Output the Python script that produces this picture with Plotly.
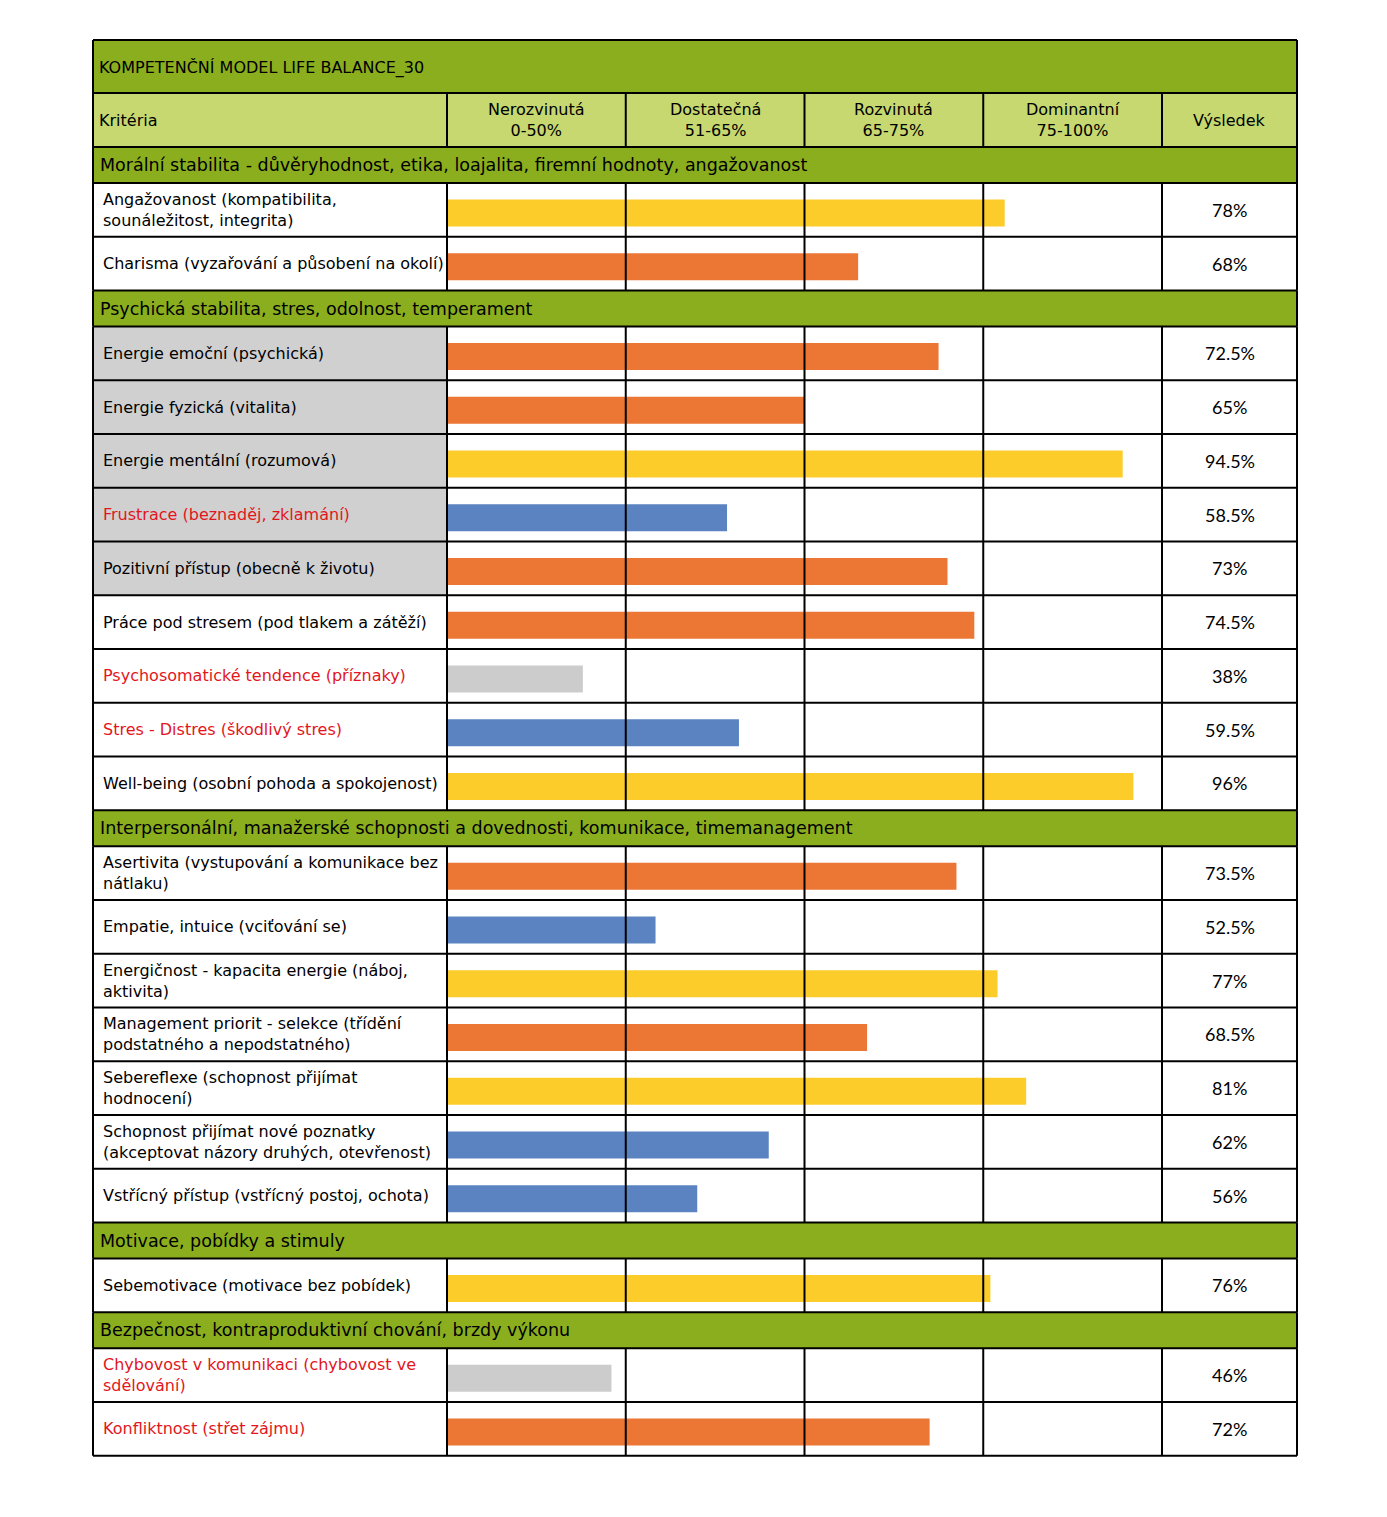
import numpy as np
import plotly.graph_objects as go

# ---------------- data ----------------
title_text = "KOMPETENČNÍ MODEL LIFE BALANCE_30"
criteria_header = "Kritéria"
band_labels = ["Nerozvinutá<br>0-50%", "Dostatečná<br>51-65%",
               "Rozvinutá<br>65-75%", "Dominantní<br>75-100%"]
result_header = "Výsledek"
band_edges = [0, 50, 65, 75, 100]

section_titles = [
    "Morální stabilita - důvěryhodnost, etika, loajalita, firemní hodnoty, angažovanost",
    "Psychická stabilita, stres, odolnost, temperament",
    "Interpersonální, manažerské schopnosti a dovednosti, komunikace, timemanagement",
    "Motivace, pobídky a stimuly",
    "Bezpečnost, kontraproduktivní chování, brzdy výkonu",
]

criteria = [
    "Angažovanost (kompatibilita,<br>sounáležitost, integrita)",
    "Charisma (vyzařování a působení na okolí)",
    "Energie emoční (psychická)",
    "Energie fyzická (vitalita)",
    "Energie mentální (rozumová)",
    "Frustrace (beznaděj, zklamání)",
    "Pozitivní přístup (obecně k životu)",
    "Práce pod stresem (pod tlakem a zátěží)",
    "Psychosomatické tendence (příznaky)",
    "Stres - Distres (škodlivý stres)",
    "Well-being (osobní pohoda a spokojenost)",
    "Asertivita (vystupování a komunikace bez<br>nátlaku)",
    "Empatie, intuice (vciťování se)",
    "Energičnost - kapacita energie (náboj,<br>aktivita)",
    "Management priorit - selekce (třídění<br>podstatného a nepodstatného)",
    "Sebereflexe (schopnost přijímat<br>hodnocení)",
    "Schopnost přijímat nové poznatky<br>(akceptovat názory druhých, otevřenost)",
    "Vstřícný přístup (vstřícný postoj, ochota)",
    "Sebemotivace (motivace bez pobídek)",
    "Chybovost v komunikaci (chybovost ve<br>sdělování)",
    "Konfliktnost (střet zájmu)",
]
section_of = [0, 0, 1, 1, 1, 1, 1, 1, 1, 1, 1, 2, 2, 2, 2, 2, 2, 2, 3, 4, 4]
values = [78, 68, 72.5, 65, 94.5, 58.5, 73, 74.5, 38, 59.5, 96,
          73.5, 52.5, 77, 68.5, 81, 62, 56, 76, 46, 72]
red_label = [False, False, False, False, False, True, False, False, True, True, False,
             False, False, False, False, False, False, False, False, True, True]
gray_cell = [False, False, True, True, True, True, True, False, False, False, False,
             False, False, False, False, False, False, False, False, False, False]

# ---------------- styles ----------------
band_colors = ["#CCCCCC", "#5B83C1", "#EC7634", "#FBCC2A"]
GREEN = "#8BAE1F"
LIGHT_GREEN = "#C6D86F"
GRAY_BG = "#D0D0D0"
RED = "#E3161C"
FONT = "DejaVu Sans"
LINE = dict(color="black", width=2)

BODY = 8                        # default page margin of the html body
W, H = 1387 - 2 * BODY, 1517 - 2 * BODY
TOP, BOTTOM = 40 - BODY, 1455 - BODY
LEFT, RIGHT = 93 - BODY, 1297 - BODY
BAND_PX = (1162 - 447) / 4
CRIT_W = (447 - 93) / BAND_PX
RES_W = (1297 - 1162) / BAND_PX
TITLE_H, HEADER_H, SECTION_H, ITEM_H = 53, 54, 36, 53.75
PAD = 2

# ---------------- layout of rows ----------------
shapes = []
annotations = []
x0, x1 = -CRIT_W, 4 + RES_W
col_lines = [-CRIT_W, 0, 1, 2, 3, 4, 4 + RES_W]

def rect(xa, xb, ya, yb, fill):
    shapes.append(dict(type="rect", xref="x", yref="y", x0=xa, x1=xb, y0=ya, y1=yb,
                       fillcolor=fill, line=dict(width=0), layer="below"))

def hline(y):
    shapes.append(dict(type="line", xref="x", yref="y", x0=x0, x1=x1, y0=y, y1=y,
                       line=LINE, layer="above"))

def vlines(ya, yb, xs):
    for xv in xs:
        shapes.append(dict(type="line", xref="x", yref="y", x0=xv, x1=xv, y0=ya, y1=yb,
                           line=LINE, layer="above"))

def text(x, y, s, size=16, color="black", anchor="left", xshift=0, family=FONT):
    annotations.append(dict(x=x, y=y, xref="x", yref="y", text=s, showarrow=False,
                            xanchor=anchor, yanchor="middle", xshift=xshift,
                            align=anchor if anchor != "center" else "center",
                            font=dict(family=family, size=size, color=color)))

y = TOP
# title row
rect(x0, x1, y, y + TITLE_H, GREEN)
hline(y)
text(x0, y + TITLE_H / 2 + 1, title_text, size=16, xshift=4)
vlines(y, y + TITLE_H, [col_lines[0], col_lines[-1]])
y += TITLE_H
# header row
rect(x0, x1, y, y + HEADER_H, LIGHT_GREEN)
hline(y)
text(x0, y + HEADER_H / 2, criteria_header, size=16, xshift=4)
for i, lab in enumerate(band_labels):
    text(i + 0.5, y + HEADER_H / 2, lab, size=16, anchor="center")
text(4 + RES_W / 2, y + HEADER_H / 2, result_header, size=16, anchor="center")
vlines(y, y + HEADER_H, col_lines)
y += HEADER_H

centers = []
for s_idx, s_title in enumerate(section_titles):
    hline(y)
    rect(x0, x1, y, y + SECTION_H, GREEN)
    text(x0, y + SECTION_H / 2, s_title, size=17.5, xshift=5)
    vlines(y, y + SECTION_H, [col_lines[0], col_lines[-1]])
    y += SECTION_H
    block_top = y
    for i, name in enumerate(criteria):
        if section_of[i] != s_idx:
            continue
        hline(y)
        if gray_cell[i]:
            rect(x0, 0, y, y + ITEM_H, GRAY_BG)
        c = y + ITEM_H / 2
        centers.append(c)
        text(x0, c, name, size=16, color=RED if red_label[i] else "black", xshift=8)
        text(4 + RES_W / 2, c, f"{values[i]:g}%", size=18, anchor="center", family="Lato")
        y += ITEM_H
    vlines(block_top, y, col_lines)
hline(y)

# ---------------- bars ----------------
vals = np.array(values, dtype=float)
bar_x = np.interp(vals, band_edges, np.arange(len(band_edges)))
band_idx = np.digitize(vals, band_edges[1:-1])
bar_colors = [band_colors[b] for b in band_idx]

fig = go.Figure(go.Bar(
    orientation="h", x=bar_x, base=0, y=np.array(centers) + 3, width=27,
    marker=dict(color=bar_colors, line=dict(width=0)),
    hovertext=[f"{v:g}%" for v in values], hoverinfo="text",
))

fig.update_layout(
    width=W, height=H,
    margin=dict(l=LEFT - PAD, r=W - RIGHT - PAD, t=TOP - PAD, b=H - BOTTOM - PAD),
    paper_bgcolor="white", plot_bgcolor="white",
    showlegend=False,
    xaxis=dict(range=[x0 - PAD / BAND_PX, x1 + PAD / BAND_PX], visible=False, fixedrange=True),
    yaxis=dict(range=[BOTTOM + PAD, TOP - PAD], visible=False, fixedrange=True),
    shapes=shapes, annotations=annotations,
)

fig.write_html("out.html")
